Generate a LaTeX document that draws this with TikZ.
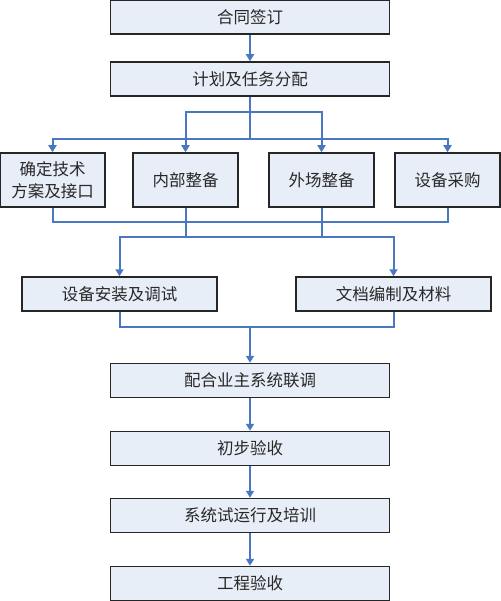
\documentclass[tikz,border=0pt]{standalone}
\usepackage{fontspec}
\newfontfamily\cjk{Noto Sans CJK SC}
\usepackage{tikz}
\usetikzlibrary{arrows.meta, positioning, calc}
\usepackage{xcolor}
\definecolor{flowblue}{RGB}{74,120,192}
\definecolor{boxfill}{RGB}{232,238,247}
\definecolor{textgray}{RGB}{40,40,40}

\begin{document}
\begin{tikzpicture}[
    x=1pt, y=-1pt,
    stepbox/.style={
        rectangle, draw=black!85, line width=1.5pt, fill=boxfill,
        minimum width=279pt, minimum height=34pt, inner sep=0pt,
        align=center, text=textgray,
        font=\cjk\fontsize{16.5}{22}\selectfont
    },
    smallbox/.style={stepbox, minimum width=105pt, minimum height=54pt},
    midbox/.style={stepbox, minimum width=195pt},
    link/.style={flowblue, line width=2pt},
    arr/.style={link, -{Triangle[length=7pt, width=8pt]}}
]
\useasboundingbox (0,0) rectangle (500,601);

% Main column
\node[stepbox] (contract) at (250, 17) {合同签订};
\node[stepbox] (plan)     at (250, 79) {计划及任务分配};

% Four parallel tasks
\node[smallbox] (tech)   at (52.5, 180)  {确定技术\\方案及接口};
\node[smallbox] (inner)  at (185.5, 180) {内部整备};
\node[smallbox] (field)  at (321.5, 180) {外场整备};
\node[smallbox] (supply) at (447.5, 180) {设备采购};

% Two parallel tasks
\node[midbox] (install) at (119.5, 294) {设备安装及调试};
\node[midbox] (docs)    at (393.5, 294) {文档编制及材料};

% Remaining steps
\node[stepbox] (joint)  at (250, 380.5) {配合业主系统联调};
\node[stepbox] (accept) at (250, 448.5) {初步验收};
\node[stepbox] (trial)  at (250, 515.5) {系统试运行及培训};
\node[stepbox] (final)  at (250, 583.5) {工程验收};

% Branch points
\coordinate (splitB) at (250, 112);
\coordinate (split)  at (250, 139);
\coordinate (merge)  at (250, 222);
\coordinate (mergeB) at (250, 237);
\coordinate (join)   at (250, 327);

% Arrows
\draw[arr] (contract) -- (plan);
\draw[link] (plan.south) -- (split);
\draw[arr] (split) -| (tech.north);
\draw[arr] (split) -| (supply.north);
\draw[arr] (splitB) -| (inner.north);
\draw[arr] (splitB) -| (field.north);

\draw[link] (tech.south) |- (merge);
\draw[link] (supply.south) |- (merge);
\draw[link] (inner.south) |- (mergeB);
\draw[link] (field.south) |- (mergeB);
\draw[arr] (mergeB) -| (install.north);
\draw[arr] (mergeB) -| (docs.north);

\draw[link] (install.south) |- (join);
\draw[link] (docs.south) |- (join);
\draw[arr] (join) -- (joint.north);
\draw[arr] (joint) -- (accept);
\draw[arr] (accept) -- (trial);
\draw[arr] (trial) -- (final);

\end{tikzpicture}
\end{document}
